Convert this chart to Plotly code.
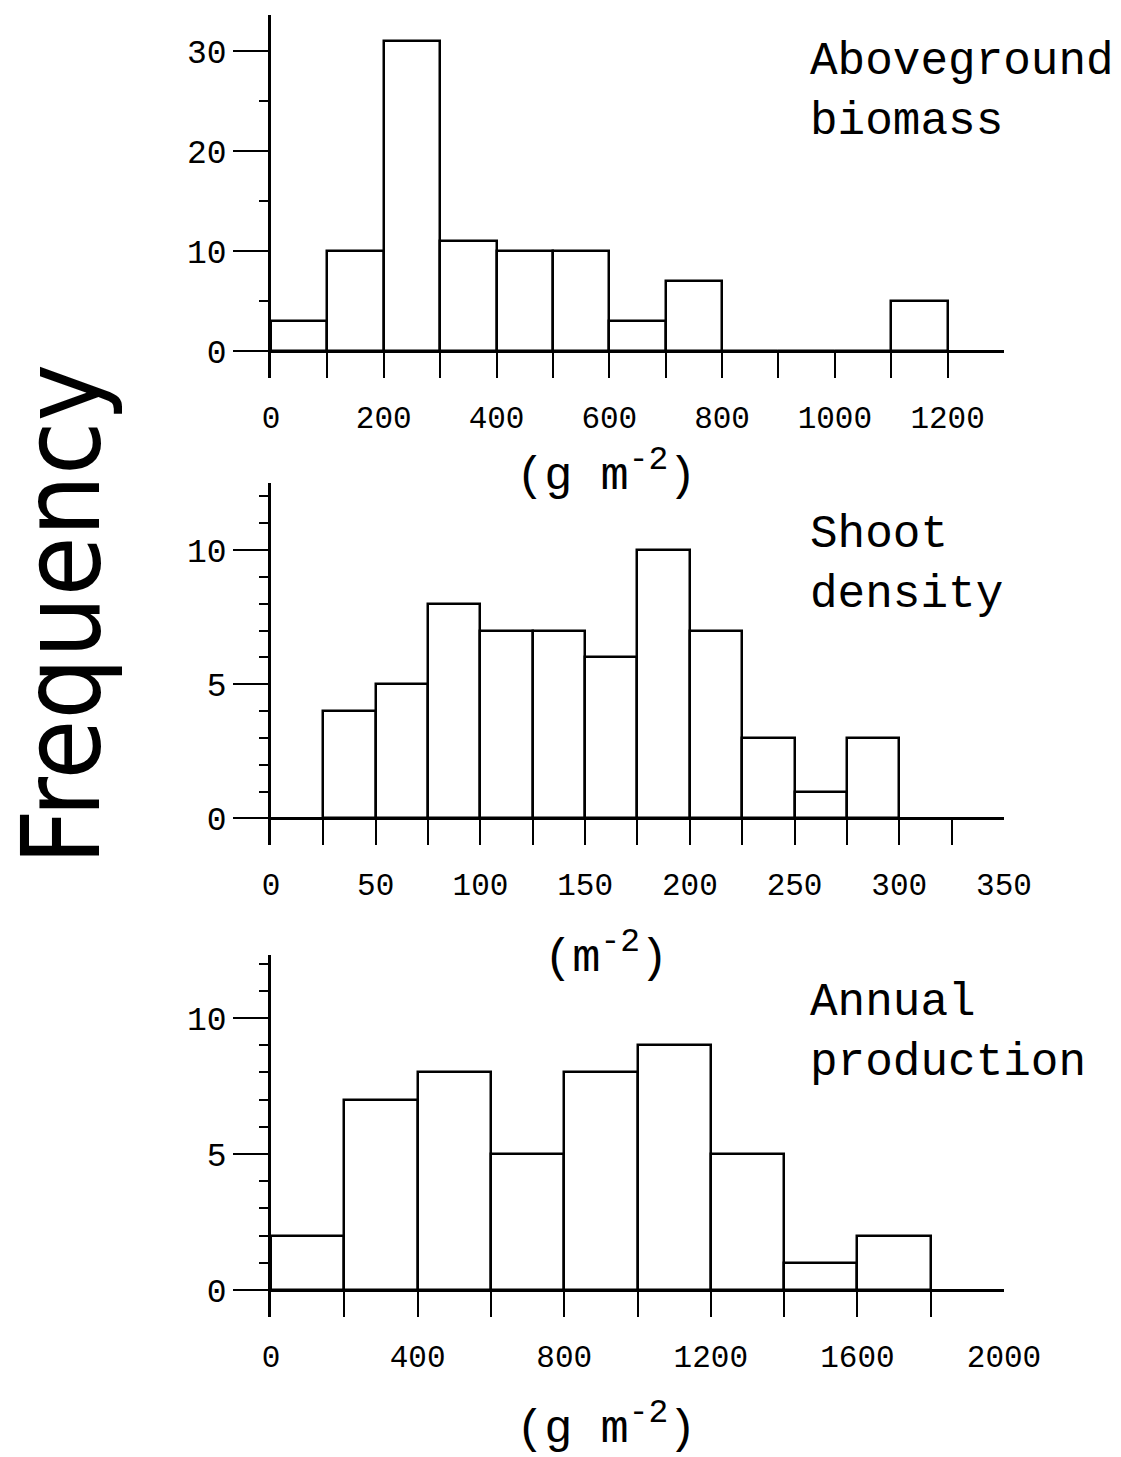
import plotly.graph_objects as go

# ---------------- data ----------------
bio_bin_start = [0, 100, 200, 300, 400, 500, 600, 700, 800, 900, 1000, 1100]
bio_counts = [3, 10, 31, 11, 10, 10, 3, 7, 0, 0, 0, 5]
bio_width = 100

dens_bin_start = [25, 50, 75, 100, 125, 150, 175, 200, 225, 250, 275]
dens_counts = [4, 5, 8, 7, 7, 6, 10, 7, 3, 1, 3]
dens_width = 25

prod_bin_start = [0, 200, 400, 600, 800, 1000, 1200, 1400, 1600]
prod_counts = [2, 7, 8, 5, 8, 9, 5, 1, 2]
prod_width = 200

panel_titles = ["Aboveground<br>biomass", "Shoot<br>density", "Annual<br>production"]
unit_labels = ["(g m<sup>-2</sup>)", "(m<sup>-2</sup>)", "(g m<sup>-2</sup>)"]
y_title = "Frequency"

# ---------------- layout helpers ----------------
W, H = 1121, 1457
FONT = "Liberation Mono"
BIG_FONT = "DejaVu Sans Condensed, Liberation Mono"
LW = 2.5


def px(x):
    return x / W


def py(y):
    return 1 - y / H


xdom = [px(271), px(1004)]

panels = [
    dict(starts=bio_bin_start, counts=bio_counts, width=bio_width,
         xrange=[0, 1300.01], xdtick=200, xminor=100,
         ydom=[py(378), py(15)], yrange=[-2.7, 33.6], ydtick=10, yminor=5,
         title_y=92, unit_y=472),
    dict(starts=dens_bin_start, counts=dens_counts, width=dens_width,
         xrange=[0, 350.005], xdtick=50, xminor=25,
         ydom=[py(845), py(483)], yrange=[-0.99, 12.5], ydtick=5, yminor=1,
         title_y=565, unit_y=954),
    dict(starts=prod_bin_start, counts=prod_counts, width=prod_width,
         xrange=[0, 2000.02], xdtick=400, xminor=200,
         ydom=[py(1317), py(955)], yrange=[-0.99, 12.32], ydtick=5, yminor=1,
         title_y=1033, unit_y=1425),
]

fig = go.Figure()
layout = dict(
    width=W, height=H, autosize=False,
    margin=dict(l=0, r=0, t=0, b=0, pad=0, autoexpand=False),
    paper_bgcolor="white", plot_bgcolor="white",
    showlegend=False, bargap=0,
    font=dict(family=FONT, color="black"),
)
annotations = []

for i, p in enumerate(panels):
    n = "" if i == 0 else str(i + 1)
    centers = [s + p["width"] / 2 for s in p["starts"]]
    fig.add_trace(go.Bar(
        x=centers, y=p["counts"], width=[p["width"]] * len(centers),
        marker=dict(color="white", line=dict(color="black", width=LW)),
        xaxis="x" + n, yaxis="y" + n, hoverinfo="skip",
    ))
    layout["xaxis" + n] = dict(
        domain=xdom, anchor="y" + n, range=p["xrange"], automargin=False,
        showgrid=False, showline=False, zeroline=False,
        tickmode="linear", tick0=0, dtick=p["xdtick"],
        ticks="inside", ticklen=27, tickwidth=2, tickcolor="black",
        ticklabelstandoff=18,
        minor=dict(tickmode="linear", tick0=0, dtick=p["xminor"],
                   ticks="inside", ticklen=27, tickwidth=2, tickcolor="black"),
        tickfont=dict(family=FONT, size=31, color="black"),
        fixedrange=True,
    )
    layout["yaxis" + n] = dict(
        domain=p["ydom"], anchor="x" + n, range=p["yrange"], automargin=False,
        showgrid=False, showline=True, linecolor="black", linewidth=LW,
        zeroline=True, zerolinecolor="black", zerolinewidth=LW,
        tickmode="linear", tick0=0, dtick=p["ydtick"],
        ticks="outside", ticklen=35, tickwidth=2, tickcolor="black",
        minor=dict(tickmode="linear", tick0=0, dtick=p["yminor"],
                   ticks="outside", ticklen=9, tickwidth=2, tickcolor="black"),
        tickfont=dict(family=FONT, size=33, color="black"),
        fixedrange=True,
    )
    annotations.append(dict(
        text=panel_titles[i], xref="paper", yref="paper",
        x=px(808), y=py(p["title_y"]), xanchor="left", yanchor="middle",
        align="left", showarrow=False,
        font=dict(family=FONT, size=46, color="black"),
    ))
    annotations.append(dict(
        text=unit_labels[i], xref="paper", yref="paper",
        x=px(606), y=py(p["unit_y"]), xanchor="center", yanchor="middle",
        showarrow=False,
        font=dict(family=FONT, size=47, color="black"),
    ))

annotations.append(dict(
    text=y_title, xref="paper", yref="paper",
    x=px(62), y=py(615), xanchor="center", yanchor="middle",
    textangle=-90, showarrow=False,
    font=dict(family=BIG_FONT, size=108, color="black"),
))

layout["annotations"] = annotations
fig.update_layout(**layout)

post = (
    "document.documentElement.style.margin='0';"
    "document.documentElement.style.overflow='hidden';"
    "document.body.style.margin='0';"
    "document.body.style.padding='0';"
    "document.body.style.overflow='hidden';"
    "var gd=document.getElementById('{plot_id}');"
    "Plotly.relayout(gd,{width:1121,height:1457});"
)
fig.write_html("out.html", config={"responsive": False, "displayModeBar": False},
               post_script=post)
